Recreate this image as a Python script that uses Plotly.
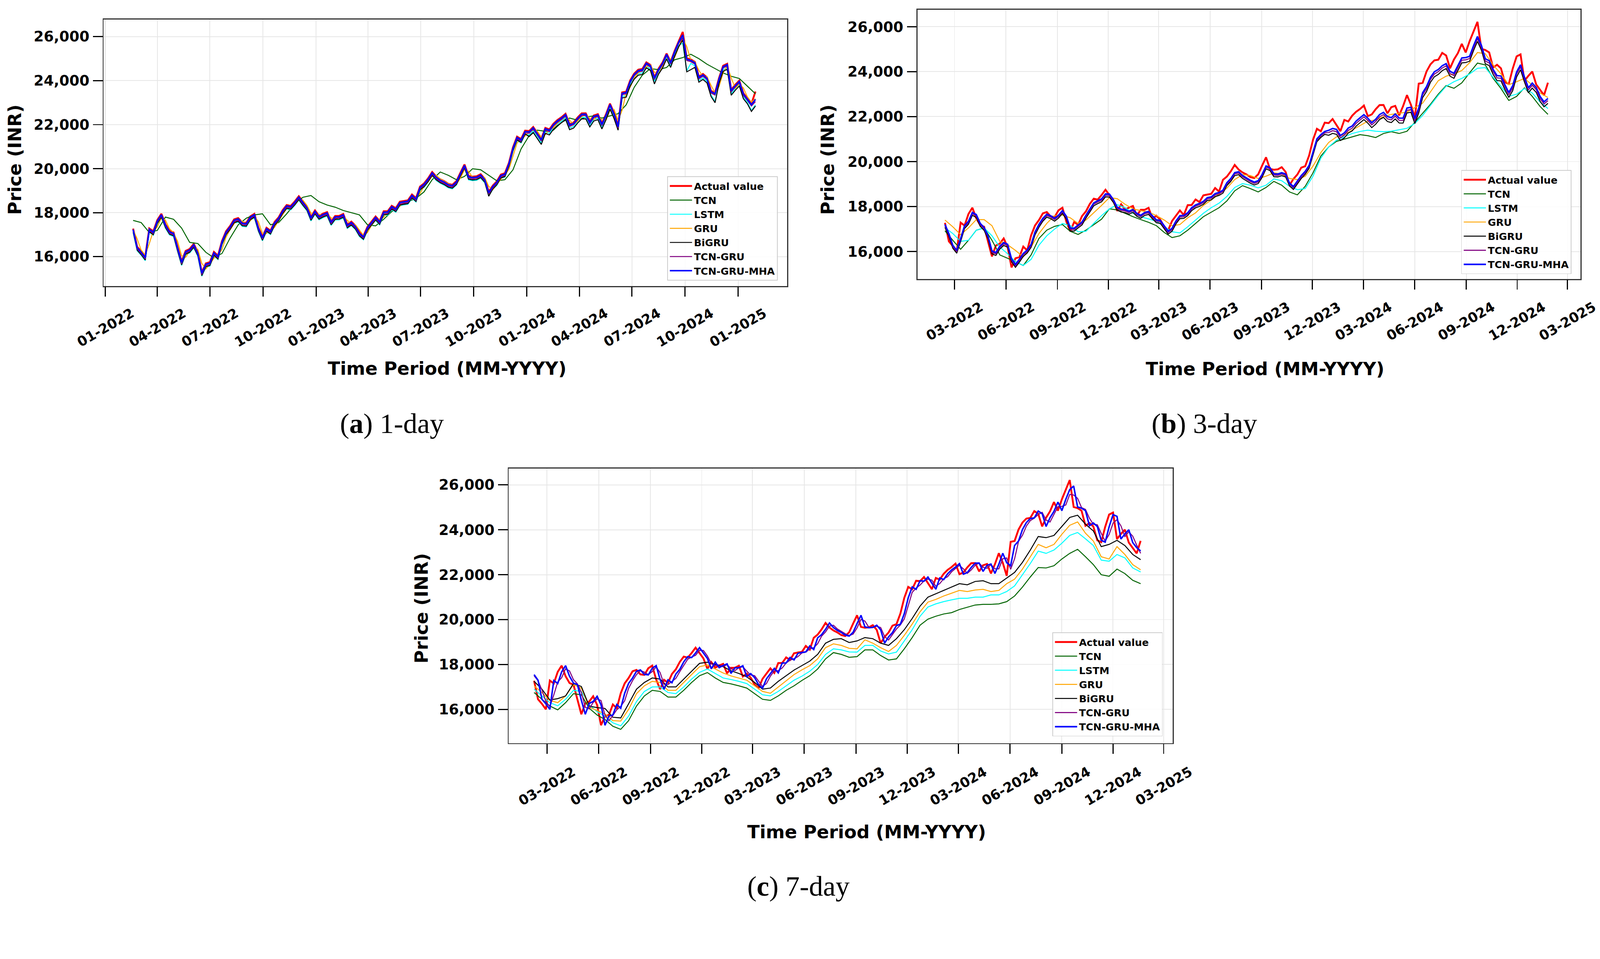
import pandas as pd
import plotly.graph_objects as go

# ---------------------------------------------------------------- data
series_names = ["Actual value", "TCN", "LSTM", "GRU", "BiGRU", "TCN-GRU", "TCN-GRU-MHA"]
series_colors = ["#ff0000", "#006400", "#00ffff", "#ffa500", "#000000", "#800080", "#0000ff"]

# weekly sampling of the test period (first sample of each panel)
panel_start = {"a": "2022-02-18", "b": "2022-02-12", "c": "2022-02-06"}
n_weeks = 155

actual_values = [
    17276, 16450, 16245, 16000, 17287, 17153, 17670, 17950, 17475, 17172,
    17102, 16411, 15782, 16266, 16352, 16584, 16201, 15293, 15699, 15752,
    16220, 16049, 16719, 17158, 17397, 17698, 17758, 17559, 17539, 17833,
    17950, 17327, 16900, 17314, 17186, 17576, 17787, 18117, 18350, 18308,
    18512, 18750, 18497, 18269, 17806, 18105, 17859, 17956, 18027, 17604,
    17854, 17856, 17944, 17465, 17594, 17413, 17100, 16945, 17360, 17599,
    17828, 17624, 18065, 18069, 18315, 18203, 18499, 18534, 18563, 18826,
    18665, 19189, 19332, 19565, 19850, 19646, 19517, 19428, 19310, 19266,
    19435, 19820, 20192, 19674, 19638, 19654, 19751, 19542, 18950, 19230,
    19425, 19732, 19795, 20268, 20970, 21457, 21349, 21731, 21711, 21895,
    21622, 21353, 21854, 21783, 22041, 22213, 22339, 22494, 22023, 22097,
    22327, 22514, 22519, 22147, 22420, 22476, 22055, 22466, 22957, 22531,
    21950, 23466, 23501, 24011, 24324, 24502, 24531, 24834, 24718, 24150,
    24541, 24823, 25236, 24852, 25357, 25791, 26216, 25015, 24964, 24854,
    24181, 24305, 24148, 23533, 23450, 24131, 24678, 24768, 23588, 23814,
    24005, 23432, 23203, 22950, 23508,
]

# ---- (a) 1-day horizon
a_tcn = [  # fortnightly
    17650, 17550, 17100, 17200, 17800, 17700, 17300, 16650, 16600, 16200,
    15950, 16150, 16850, 17450, 17750, 17900, 17950, 17450, 17550, 17950,
    18400, 18700, 18780, 18500, 18350, 18250, 18100, 18000, 17900, 17450,
    17400, 17700, 18050, 18300, 18500, 18650, 18950, 19500, 19850, 19700,
    19500, 19650, 20000, 19950, 19700, 19450, 19500, 19950, 20900, 21500,
    21750, 21700, 21750, 22100, 22300, 22200, 22350, 22400, 22300, 22400,
    22500, 22900, 23700, 24250, 24550, 24500, 24600, 24950, 25050, 25200,
    25000, 24750, 24550, 24350, 24200, 24100, 23750, 23400,
]
a_lstm = [
    17096, 16270, 16065, 15820, 17107, 16973, 17490, 17770, 17295, 16992,
    16922, 16231, 15602, 16086, 16172, 16404, 16021, 15113, 15519, 15572,
    16040, 15869, 16539, 16978, 17217, 17518, 17578, 17379, 17359, 17653,
    17770, 17147, 16720, 17134, 17006, 17396, 17607, 17937, 18170, 18128,
    18332, 18570, 18317, 18089, 17626, 17925, 17679, 17776, 17847, 17424,
    17674, 17676, 17764, 17285, 17414, 17233, 16920, 16765, 17180, 17419,
    17648, 17444, 17885, 17889, 18135, 18023, 18319, 18354, 18383, 18646,
    18485, 19009, 19152, 19385, 19670, 19466, 19337, 19248, 19130, 19086,
    19255, 19640, 20012, 19494, 19458, 19474, 19571, 19362, 18770, 19050,
    19245, 19552, 19615, 20088, 20790, 21277, 21169, 21551, 21531, 21715,
    21442, 21173, 21674, 21603, 21861, 22033, 22159, 22314, 21843, 21917,
    22147, 22334, 22339, 21967, 22240, 22296, 21875, 22286, 22777, 22351,
    21770, 23286, 23321, 23831, 24144, 24322, 24351, 24654, 24538, 23970,
    24361, 24643, 25056, 24672, 25177, 25611, 25700, 24450, 24784, 24674,
    24001, 24125, 23968, 23353, 23050, 23951, 24498, 24588, 23408, 23634,
    23825, 23252, 23023, 22650, 22900,
]
a_gru = [
    17226, 16813, 16298, 16073, 16594, 17170, 17362, 17760, 17663, 17274,
    17087, 16707, 16047, 15974, 16259, 16418, 16343, 15697, 15446, 15676,
    15936, 16085, 16334, 16889, 17228, 17498, 17678, 17609, 17499, 17636,
    17842, 17589, 17064, 17057, 17200, 17331, 17632, 17902, 18184, 18279,
    18360, 18581, 18574, 18333, 17988, 17906, 17932, 17858, 17942, 17766,
    17679, 17805, 17850, 17655, 17480, 17454, 17207, 16973, 17103, 17430,
    17664, 17676, 17795, 18017, 18142, 18209, 18301, 18467, 18499, 18645,
    18696, 18877, 19211, 19399, 19658, 19698, 19532, 19423, 19319, 19238,
    19301, 19578, 19956, 19883, 19606, 19596, 19653, 19597, 19196, 19040,
    19278, 19529, 19714, 19982, 20569, 21164, 21353, 21490, 21671, 21753,
    21709, 21438, 21554, 21769, 21862, 22077, 22226, 22367, 22209, 22010,
    22162, 22371, 22467, 22283, 22234, 22398, 22216, 22211, 22662, 22694,
    22191, 22658, 23434, 23706, 24118, 24363, 24467, 24633, 24726, 24384,
    24296, 24632, 24980, 24994, 25055, 25524, 25935, 25547, 24940, 24859,
    24468, 24193, 24177, 23791, 23442, 23741, 24355, 24673, 24128, 23651,
    23860, 23669, 23268, 23027, 23179,
]
a_bigru = [
    17126, 16300, 16095, 15850, 17137, 17003, 17520, 17800, 17325, 17022,
    16952, 16261, 15632, 16116, 16202, 16434, 16051, 15143, 15549, 15602,
    16070, 15899, 16569, 17008, 17247, 17548, 17608, 17409, 17389, 17683,
    17800, 17177, 16750, 17164, 17036, 17426, 17637, 17967, 18200, 18158,
    18362, 18600, 18347, 18119, 17656, 17955, 17709, 17806, 17877, 17454,
    17704, 17706, 17794, 17315, 17444, 17263, 16950, 16795, 17210, 17449,
    17678, 17474, 17915, 17919, 18165, 18053, 18349, 18384, 18413, 18676,
    18515, 19039, 19182, 19415, 19700, 19496, 19367, 19278, 19160, 19116,
    19285, 19670, 20042, 19524, 19488, 19504, 19601, 19392, 18750, 19080,
    19275, 19582, 19645, 20118, 20820, 21307, 21199, 21581, 21461, 21645,
    21372, 21103, 21604, 21533, 21791, 21963, 22089, 22244, 21773, 21847,
    22077, 22264, 22269, 21897, 22170, 22226, 21805, 22216, 22707, 22281,
    21750, 23216, 23251, 23761, 24074, 24252, 24281, 24584, 24468, 23850,
    24291, 24573, 24986, 24602, 25107, 25541, 25850, 24400, 24500, 24604,
    23931, 24055, 23898, 23283, 23000, 23881, 24428, 24518, 23338, 23564,
    23755, 23182, 22953, 22600, 22850,
]
a_tcn_gru = [
    17176, 16350, 16145, 15900, 17187, 17053, 17570, 17850, 17375, 17072,
    17002, 16311, 15682, 16166, 16252, 16484, 16101, 15193, 15599, 15652,
    16120, 15949, 16619, 17058, 17297, 17598, 17658, 17459, 17439, 17733,
    17850, 17227, 16800, 17214, 17086, 17476, 17687, 18017, 18250, 18208,
    18412, 18650, 18397, 18169, 17706, 18005, 17759, 17856, 17927, 17504,
    17754, 17756, 17844, 17365, 17494, 17313, 17000, 16845, 17260, 17499,
    17728, 17524, 17965, 17969, 18215, 18103, 18399, 18434, 18463, 18726,
    18565, 19089, 19232, 19465, 19750, 19546, 19417, 19328, 19210, 19166,
    19335, 19720, 20092, 19574, 19538, 19554, 19651, 19442, 18850, 19130,
    19325, 19632, 19695, 20168, 20870, 21357, 21249, 21631, 21611, 21795,
    21522, 21253, 21754, 21683, 21941, 22113, 22239, 22394, 21923, 21997,
    22227, 22414, 22419, 22047, 22320, 22376, 21955, 22366, 22857, 22431,
    21850, 23366, 23401, 23911, 24224, 24402, 24431, 24734, 24618, 24050,
    24441, 24723, 25136, 24752, 25257, 25691, 25950, 24915, 24864, 24754,
    24081, 24205, 24048, 23433, 23350, 24031, 24578, 24668, 23488, 23714,
    23905, 23332, 23103, 22850, 23050,
]
a_tcn_gru_mha = [
    17236, 16410, 16205, 15960, 17247, 17113, 17630, 17910, 17435, 17132,
    17062, 16371, 15742, 16226, 16312, 16544, 16161, 15253, 15659, 15712,
    16180, 16009, 16679, 17118, 17357, 17658, 17718, 17519, 17499, 17793,
    17910, 17287, 16860, 17274, 17146, 17536, 17747, 18077, 18310, 18268,
    18472, 18710, 18457, 18229, 17766, 18065, 17819, 17916, 17987, 17564,
    17814, 17816, 17904, 17425, 17554, 17373, 17060, 16905, 17320, 17559,
    17788, 17584, 18025, 18029, 18275, 18163, 18459, 18494, 18523, 18786,
    18625, 19149, 19292, 19525, 19810, 19606, 19477, 19388, 19270, 19226,
    19395, 19780, 20152, 19634, 19598, 19614, 19711, 19502, 18910, 19190,
    19385, 19692, 19755, 20228, 20930, 21417, 21309, 21691, 21671, 21855,
    21582, 21313, 21814, 21743, 22001, 22173, 22299, 22454, 21983, 22057,
    22287, 22474, 22479, 22107, 22380, 22436, 22015, 22426, 22917, 22491,
    21910, 23426, 23461, 23971, 24284, 24462, 24491, 24794, 24678, 24110,
    24501, 24783, 25196, 24812, 25317, 25751, 26080, 24975, 24924, 24814,
    24141, 24265, 24108, 23493, 23410, 24091, 24638, 24728, 23548, 23774,
    23965, 23392, 23163, 22910, 23150,
]

# ---- (b) 3-day horizon
b_tcn = [  # fortnightly
    16920, 16500, 16100, 16500, 16950, 17050, 16500, 15850, 15700, 15550,
    15380, 15850, 16580, 16950, 17120, 17200, 16900, 16760, 16950, 17200,
    17440, 17900, 17850, 17700, 17550, 17420, 17300, 17150, 16850, 16620,
    16700, 16950, 17250, 17550, 17750, 17950, 18250, 18700, 18930, 18800,
    18650, 18850, 19120, 18950, 18650, 18520, 18900, 19500, 20250, 20650,
    20900, 21000, 21100, 21200, 21150, 21070, 21250, 21330, 21250, 21350,
    21750, 22150, 22550, 23000, 23380, 23260, 23500, 23950, 24380, 24300,
    23700, 23250, 22720, 22900, 23280, 22900, 22450, 22100,
]
b_lstm = [  # fortnightly
    17060, 16800, 16450, 16500, 16950, 17050, 16700, 16200, 15900, 15550,
    15380, 15650, 16280, 16700, 17000, 17250, 17150, 16880, 16900, 17250,
    17600, 17900, 18080, 17950, 17700, 17550, 17450, 17350, 17100, 16880,
    16830, 17100, 17400, 17700, 17950, 18150, 18450, 18850, 19020, 18950,
    18830, 18950, 19230, 19150, 18900, 18750, 18800, 19350, 20150, 20650,
    20950, 21100, 21250, 21340, 21400, 21350, 21330, 21350, 21420, 21480,
    21700, 22050, 22500, 22950, 23350, 23550, 23700, 23900, 24150, 24180,
    23750, 23350, 22900, 23000, 23250, 23050, 22650, 22360,
]
b_gru = [  # fortnightly
    17400, 17100, 16750, 17050, 17420, 17420, 17150, 16450, 16300, 16050,
    15760, 16200, 16800, 17250, 17600, 17620, 17500, 17250, 17400, 17720,
    18050, 18400, 18350, 18100, 17900, 17820, 17750, 17600, 17400, 17150,
    17200, 17500, 17720, 18050, 18290, 18550, 18820, 19200, 19420, 19380,
    19250, 19350, 19500, 19450, 19250, 19200, 19350, 19800, 20400, 20850,
    21100, 21200, 21400, 21600, 21800, 21850, 22000, 22100, 22150, 22200,
    22400, 22600, 23100, 23600, 23800, 23900, 24050, 24400, 24850, 24800,
    24300, 23900, 23420, 23550, 23700, 23400, 23050, 22850,
]
b_bigru = [
    17076, 16663, 16148, 15923, 16444, 17020, 17212, 17610, 17513, 17124,
    16937, 16557, 15897, 15824, 16109, 16268, 16193, 15547, 15296, 15526,
    15786, 15935, 16184, 16739, 17078, 17348, 17528, 17459, 17349, 17486,
    17692, 17439, 16914, 16907, 17050, 17181, 17482, 17752, 18034, 18129,
    18210, 18431, 18424, 18183, 17838, 17756, 17732, 17658, 17742, 17566,
    17479, 17605, 17650, 17455, 17280, 17254, 17007, 16773, 16903, 17230,
    17464, 17476, 17595, 17817, 17942, 18009, 18101, 18267, 18299, 18445,
    18496, 18597, 18931, 19119, 19378, 19418, 19252, 19143, 19039, 18958,
    19021, 19298, 19676, 19603, 19326, 19316, 19373, 19317, 18916, 18760,
    18998, 19249, 19434, 19702, 20289, 20884, 21073, 21210, 21171, 21253,
    21209, 20938, 21054, 21269, 21362, 21577, 21726, 21867, 21709, 21510,
    21662, 21871, 21967, 21783, 21734, 21898, 21716, 21711, 22162, 22194,
    21691, 22158, 22844, 23116, 23528, 23773, 23877, 24043, 24136, 23794,
    23706, 24042, 24390, 24404, 24465, 24934, 25345, 24957, 24350, 24269,
    23878, 23603, 23587, 23201, 22852, 23151, 23765, 24083, 23538, 23061,
    23270, 23079, 22678, 22437, 22589,
]
b_tcn_gru = [
    17146, 16733, 16218, 15993, 16514, 17090, 17282, 17680, 17583, 17194,
    17007, 16627, 15967, 15894, 16179, 16338, 16263, 15617, 15366, 15596,
    15856, 16005, 16254, 16809, 17148, 17418, 17598, 17529, 17419, 17556,
    17762, 17509, 16984, 16977, 17120, 17251, 17552, 17822, 18104, 18199,
    18280, 18501, 18494, 18253, 17908, 17826, 17802, 17728, 17812, 17636,
    17549, 17675, 17720, 17525, 17350, 17324, 17077, 16843, 16973, 17300,
    17534, 17546, 17665, 17887, 18012, 18079, 18171, 18337, 18369, 18515,
    18566, 18667, 19001, 19189, 19448, 19488, 19322, 19213, 19109, 19028,
    19091, 19368, 19746, 19673, 19396, 19386, 19443, 19387, 18986, 18830,
    19068, 19319, 19504, 19772, 20359, 20954, 21143, 21280, 21291, 21373,
    21329, 21058, 21174, 21389, 21482, 21697, 21846, 21987, 21829, 21630,
    21782, 21991, 22087, 21903, 21854, 22018, 21836, 21831, 22282, 22314,
    21811, 22278, 22964, 23236, 23648, 23893, 23997, 24163, 24256, 23914,
    23826, 24162, 24510, 24524, 24585, 25054, 25465, 25077, 24470, 24389,
    23998, 23723, 23707, 23321, 22972, 23271, 23885, 24203, 23658, 23181,
    23390, 23199, 22798, 22557, 22709,
]
b_tcn_gru_mha = [
    17206, 16793, 16278, 16053, 16574, 17150, 17342, 17740, 17643, 17254,
    17067, 16687, 16027, 15954, 16239, 16398, 16323, 15677, 15426, 15656,
    15916, 16065, 16314, 16869, 17208, 17478, 17658, 17589, 17479, 17616,
    17822, 17569, 17044, 17037, 17180, 17311, 17612, 17882, 18164, 18259,
    18340, 18561, 18554, 18313, 17968, 17886, 17862, 17788, 17872, 17696,
    17609, 17735, 17780, 17585, 17410, 17384, 17137, 16903, 17033, 17360,
    17594, 17606, 17725, 17947, 18072, 18139, 18231, 18397, 18429, 18575,
    18626, 18727, 19061, 19249, 19508, 19548, 19382, 19273, 19169, 19088,
    19151, 19428, 19806, 19733, 19456, 19446, 19503, 19447, 19046, 18890,
    19128, 19379, 19564, 19832, 20419, 21014, 21203, 21340, 21391, 21473,
    21429, 21158, 21274, 21489, 21582, 21797, 21946, 22087, 21929, 21730,
    21882, 22091, 22187, 22003, 21954, 22118, 21936, 21931, 22382, 22414,
    21911, 22378, 23064, 23336, 23748, 23993, 24097, 24263, 24356, 24014,
    23926, 24262, 24610, 24624, 24685, 25154, 25565, 25177, 24570, 24489,
    24098, 23823, 23807, 23421, 23072, 23371, 23985, 24303, 23758, 23281,
    23490, 23299, 22898, 22657, 22809,
]

# ---- (c) 7-day horizon
c_tcn = [  # fortnightly
    16750, 16450, 16150, 15980, 16300, 16700, 16650, 16050, 15750, 15550,
    15250, 15110, 15500, 16150, 16600, 16850, 16800, 16550, 16550, 16850,
    17200, 17500, 17640, 17400, 17200, 17135, 17050, 16950, 16700, 16450,
    16400, 16600, 16850, 17050, 17290, 17500, 17800, 18250, 18530, 18450,
    18320, 18350, 18650, 18650, 18400, 18200, 18250, 18700, 19200, 19750,
    20020, 20150, 20250, 20310, 20450, 20550, 20650, 20680, 20680, 20700,
    20800, 21050, 21450, 21900, 22320, 22300, 22400, 22700, 22950, 23130,
    22800, 22450, 22000, 21930, 22250, 22050, 21750, 21600,
]
c_lstm = [  # fortnightly
    16900, 16600, 16300, 16160, 16450, 16850, 16800, 16200, 15900, 15700,
    15400, 15270, 15700, 16350, 16800, 17000, 17000, 16750, 16700, 17000,
    17350, 17650, 17800, 17600, 17400, 17330, 17250, 17150, 16900, 16650,
    16600, 16800, 17050, 17300, 17480, 17700, 18000, 18450, 18700, 18650,
    18560, 18550, 18850, 18850, 18600, 18470, 18550, 19050, 19550, 20150,
    20560, 20700, 20800, 20880, 20950, 20950, 21000, 21000, 21100, 21100,
    21250, 21500, 22000, 22500, 23050, 22950, 23100, 23400, 23750, 23880,
    23600, 23300, 22650, 22600, 22900, 22750, 22300, 22120,
]
c_gru = [  # fortnightly
    17050, 16750, 16400, 16300, 16600, 17100, 16950, 16100, 15950, 15800,
    15500, 15480, 16000, 16700, 17050, 17250, 17200, 16850, 16850, 17200,
    17550, 17900, 17980, 17800, 17620, 17490, 17400, 17300, 17050, 16800,
    16720, 17000, 17280, 17550, 17760, 17950, 18250, 18750, 18920, 18850,
    18720, 18700, 19100, 18950, 18750, 18580, 18850, 19300, 19800, 20350,
    20780, 20900, 21050, 21170, 21300, 21250, 21320, 21350, 21250, 21300,
    21600, 21800, 22250, 22800, 23350, 23200, 23350, 23800, 24200, 24350,
    23850, 23500, 22800, 22700, 23250, 22900, 22450, 22220,
]
c_bigru = [  # fortnightly
    17250, 16900, 16420, 16480, 16600, 17150, 17020, 16150, 16080, 16040,
    15650, 15620, 16250, 16900, 17200, 17400, 17350, 17000, 17000, 17350,
    17700, 18050, 18100, 18000, 17900, 17720, 17600, 17450, 17200, 16900,
    16950, 17250, 17500, 17750, 17950, 18150, 18450, 18950, 19120, 19150,
    18980, 19050, 19200, 19150, 18950, 18850, 19150, 19550, 20050, 20600,
    21000, 21150, 21300, 21440, 21600, 21550, 21700, 21730, 21600, 21600,
    21850, 22100, 22550, 23100, 23700, 23650, 23750, 24150, 24550, 24650,
    24250, 23950, 23250, 23350, 23530, 23300, 22900, 22670,
]
c_tcn_gru = [
    17500, 17276, 16863, 16348, 16123, 16644, 17220, 17412, 17810, 17713,
    17324, 17137, 16757, 16097, 16024, 16309, 16468, 16393, 15747, 15496,
    15726, 15986, 16135, 16384, 16939, 17278, 17548, 17728, 17659, 17549,
    17686, 17892, 17639, 17114, 17107, 17250, 17381, 17682, 17952, 18234,
    18329, 18410, 18631, 18624, 18383, 18038, 17956, 17982, 17908, 17992,
    17816, 17729, 17855, 17900, 17705, 17530, 17504, 17257, 17023, 17153,
    17480, 17714, 17726, 17845, 18067, 18192, 18259, 18351, 18517, 18549,
    18695, 18746, 18927, 19261, 19449, 19708, 19748, 19582, 19473, 19369,
    19288, 19351, 19628, 20006, 19933, 19656, 19646, 19703, 19647, 19246,
    19090, 19328, 19579, 19764, 20032, 20619, 21214, 21403, 21540, 21721,
    21803, 21759, 21488, 21604, 21819, 21912, 22127, 22276, 22417, 22259,
    22060, 22212, 22421, 22517, 22333, 22284, 22448, 22266, 22261, 22712,
    22744, 22241, 22708, 23484, 23756, 24168, 24413, 24517, 24683, 24776,
    24434, 24346, 24682, 25030, 25044, 25105, 25574, 25550, 25400, 24990,
    24909, 24518, 24243, 24227, 23841, 23492, 23791, 24300, 24450, 24178,
    23701, 23910, 23719, 23318, 22950,
]
c_tcn_gru_mha = [
    17550, 17300, 16450, 16245, 16000, 17287, 17153, 17670, 17950, 17475,
    17172, 17102, 16411, 15782, 16266, 16352, 16584, 16201, 15293, 15699,
    15752, 16220, 16049, 16719, 17158, 17397, 17698, 17758, 17559, 17539,
    17833, 17950, 17327, 16900, 17314, 17186, 17576, 17787, 18117, 18350,
    18308, 18512, 18750, 18497, 18269, 17806, 18105, 17859, 17956, 18027,
    17604, 17854, 17856, 17944, 17465, 17594, 17413, 17100, 16945, 17360,
    17599, 17828, 17624, 18065, 18069, 18315, 18203, 18499, 18534, 18563,
    18826, 18665, 19189, 19332, 19565, 19850, 19646, 19517, 19428, 19310,
    19266, 19435, 19820, 20192, 19674, 19638, 19654, 19751, 19542, 18950,
    19230, 19425, 19732, 19795, 20268, 20970, 21457, 21349, 21731, 21711,
    21895, 21622, 21353, 21854, 21783, 22041, 22213, 22339, 22494, 22023,
    22097, 22327, 22514, 22519, 22147, 22420, 22476, 22055, 22466, 22957,
    22531, 22400, 23300, 23501, 24011, 24324, 24502, 24531, 24834, 24718,
    24150, 24541, 24823, 25236, 24852, 25357, 25791, 25950, 25015, 24964,
    24854, 24181, 24305, 24148, 23533, 23450, 24131, 24678, 24600, 23588,
    23814, 24005, 23432, 23203, 23060,
]

y_tick_values = [16000, 18000, 20000, 22000, 24000, 26000]
y_tick_labels = ["16,000", "18,000", "20,000", "22,000", "24,000", "26,000"]

a_tick_dates = ["2022-01-01", "2022-04-01", "2022-07-01", "2022-10-01", "2023-01-01",
                "2023-04-01", "2023-07-01", "2023-10-01", "2024-01-01", "2024-04-01",
                "2024-07-01", "2024-10-01", "2025-01-01"]
a_tick_labels = ["01-2022", "04-2022", "07-2022", "10-2022", "01-2023", "04-2023", "07-2023",
                 "10-2023", "01-2024", "04-2024", "07-2024", "10-2024", "01-2025"]
bc_tick_dates = ["2022-03-01", "2022-06-01", "2022-09-01", "2022-12-01", "2023-03-01",
                 "2023-06-01", "2023-09-01", "2023-12-01", "2024-03-01", "2024-06-01",
                 "2024-09-01", "2024-12-01", "2025-03-01"]
bc_tick_labels = ["03-2022", "06-2022", "09-2022", "12-2022", "03-2023", "06-2023", "09-2023",
                  "12-2023", "03-2024", "06-2024", "09-2024", "12-2024", "03-2025"]

x_title = "Time Period (MM-YYYY)"
y_title = "Price (INR)"
captions = {"a": "(<b>a</b>) 1-day", "b": "(<b>b</b>) 3-day", "c": "(<b>c</b>) 7-day"}

panel_series = {
    "a": [actual_values, a_tcn, a_lstm, a_gru, a_bigru, a_tcn_gru, a_tcn_gru_mha],
    "b": [actual_values, b_tcn, b_lstm, b_gru, b_bigru, b_tcn_gru, b_tcn_gru_mha],
    "c": [actual_values, c_tcn, c_lstm, c_gru, c_bigru, c_tcn_gru, c_tcn_gru_mha],
}

# ---------------------------------------------------------------- layout (pixels)
W, H = 4321, 2454
panels = [
    dict(key="a", sfx="", xdom=(280, 2126), ydom=(53, 772), yr=(14670, 26774),
         xr=("2021-12-29", "2025-03-27"), ticks=(a_tick_dates, a_tick_labels),
         tly=884, xt=(1207, 995), yt=(41, 431), cap=(1058, 1144), leg=(2100, 757)),
    dict(key="b", sfx="2", xdom=(2478, 4268), ydom=(26, 753), yr=(14781, 26758),
         xr=("2021-12-25", "2025-03-24"), ticks=(bc_tick_dates, bc_tick_labels),
         tly=867, xt=(3416, 996), yt=(2236, 431), cap=(3252, 1144), leg=(4244, 740)),
    dict(key="c", sfx="3", xdom=(1374, 3167), ydom=(1265, 2006), yr=(14498, 26726),
         xr=("2021-12-23", "2025-03-17"), ticks=(bc_tick_dates, bc_tick_labels),
         tly=2122, xt=(2340, 2246), yt=(1138, 1642), cap=(2156, 2392), leg=(3140, 1988)),
]

FONT = "DejaVu Sans"
YTICK_FONT = dict(family=FONT, size=39, color="black", weight="bold")
XTICK_FONT = dict(family=FONT, size=37, color="black", weight="bold")
TITLE_FONT = dict(family=FONT, size=49, color="black", weight="bold")
line_widths = [5, 2.6, 2.6, 2.6, 2.6, 2.8, 4]


def fx(px):
    return px / W


def fy(py):
    return 1 - py / H


fig = go.Figure()
annotations = []
layout = dict(
    width=W, height=H, margin=dict(l=0, r=0, t=0, b=0),
    paper_bgcolor="white", plot_bgcolor="white", showlegend=True,
)

for p in panels:
    weekly = pd.date_range(panel_start[p["key"]], periods=n_weeks, freq="7D")
    fortnightly = weekly[::2]
    legend_name = "legend" + p["sfx"]
    for name, color, width, vals in zip(series_names, series_colors, line_widths,
                                        panel_series[p["key"]]):
        xs = weekly if len(vals) == n_weeks else fortnightly
        fig.add_trace(go.Scatter(
            x=xs, y=vals, mode="lines", name=name,
            line=dict(color=color, width=width),
            xaxis="x" + p["sfx"], yaxis="y" + p["sfx"], legend=legend_name,
            hoverinfo="skip",
        ))

    layout["xaxis" + p["sfx"]] = dict(
        type="date", domain=[fx(p["xdom"][0]), fx(p["xdom"][1])], range=list(p["xr"]),
        anchor="y" + p["sfx"], tickvals=p["ticks"][0], showticklabels=False,
        ticks="outside", ticklen=26, tickwidth=3, tickcolor="black",
        showgrid=True, gridcolor="#e6e6e6", gridwidth=2,
        showline=True, linecolor="#333333", linewidth=2.5, mirror=True, zeroline=False,
    )
    layout["yaxis" + p["sfx"]] = dict(
        domain=[fy(p["ydom"][1]), fy(p["ydom"][0])], range=list(p["yr"]),
        anchor="x" + p["sfx"], tickvals=y_tick_values, showticklabels=False,
        ticks="outside", ticklen=26, tickwidth=3, tickcolor="black",
        showgrid=True, gridcolor="#e6e6e6", gridwidth=2,
        showline=True, linecolor="#333333", linewidth=2.5, mirror=True, zeroline=False,
    )
    layout[legend_name] = dict(
        x=fx(p["leg"][0]), y=fy(p["leg"][1]), xanchor="right", yanchor="bottom",
        xref="paper", yref="paper",
        bgcolor="rgba(255,255,255,0.85)", bordercolor="#cccccc", borderwidth=2,
        font=dict(family=FONT, size=27, color="black", weight="bold"),
        itemwidth=60, tracegroupgap=0,
    )

    # y tick labels
    for v, t in zip(y_tick_values, y_tick_labels):
        annotations.append(dict(
            x=fx(p["xdom"][0] - 36), y=v, xref="paper", yref="y" + p["sfx"], text=t,
            showarrow=False, xanchor="right", yanchor="middle", font=YTICK_FONT,
        ))
    # rotated x tick labels centred on their ticks
    for d, t in zip(*p["ticks"]):
        annotations.append(dict(
            x=d, y=fy(p["tly"]), xref="x" + p["sfx"], yref="paper", text=t,
            textangle=-30, showarrow=False, xanchor="center", yanchor="middle",
            font=XTICK_FONT,
        ))
    annotations.append(dict(
        x=fx(p["xt"][0]), y=fy(p["xt"][1]), xref="paper", yref="paper", text=x_title,
        showarrow=False, xanchor="center", yanchor="middle", font=TITLE_FONT,
    ))
    annotations.append(dict(
        x=fx(p["yt"][0]), y=fy(p["yt"][1]), xref="paper", yref="paper", text=y_title,
        textangle=-90, showarrow=False, xanchor="center", yanchor="middle",
        font=TITLE_FONT,
    ))
    annotations.append(dict(
        x=fx(p["cap"][0]), y=fy(p["cap"][1]), xref="paper", yref="paper",
        text=captions[p["key"]], showarrow=False, xanchor="center", yanchor="middle",
        font=dict(family="Liberation Serif", size=76, color="black"),
    ))

layout["annotations"] = annotations
fig.update_layout(**layout)

# make the fixed-size figure fill the browser viewport exactly
fit_script = """
var gd = document.getElementById('{plot_id}');
document.documentElement.style.margin = '0';
document.body.style.margin = '0';
document.documentElement.style.overflow = 'hidden';
document.body.style.overflow = 'hidden';
function fitFigure() {
  var s = Math.min(window.innerWidth / 4321, window.innerHeight / 2454);
  gd.style.transformOrigin = '0 0';
  gd.style.transform = 'scale(' + s + ')';
}
fitFigure();
window.addEventListener('resize', fitFigure);
"""
fig.write_html("out.html", post_script=fit_script,
               config={"displayModeBar": False, "staticPlot": False})
